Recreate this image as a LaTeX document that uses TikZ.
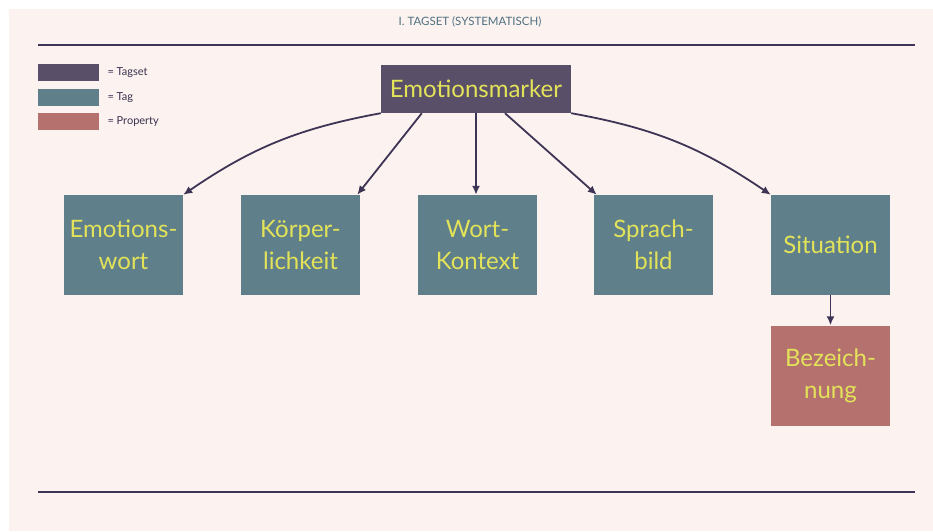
\documentclass[tikz,border=0pt]{standalone}
\usepackage{fontspec}
\setmainfont{Lato}
\usetikzlibrary{arrows.meta}
\definecolor{bgpink}{HTML}{FCF3F0}
\definecolor{tagset}{HTML}{5A4F69}
\definecolor{tagcol}{HTML}{5F7F8A}
\definecolor{propcol}{HTML}{B5716E}
\definecolor{txtyel}{HTML}{E3E35A}
\definecolor{linecol}{HTML}{3E3556}
\definecolor{titlecol}{HTML}{4F7080}
\tikzset{
  box/.style={draw=none, minimum width=119pt, minimum height=100pt, align=center,
    text=txtyel, font=\fontsize{24}{32}\selectfont, inner sep=0pt},
  tagbox/.style={box, fill=tagcol},
  propbox/.style={box, fill=propcol},
  swatch/.style={fill=#1, minimum width=61pt, minimum height=17pt, inner sep=0pt},
  legtext/.style={anchor=west, font=\fontsize{11}{13}\selectfont, text=linecol!90!black},
}
\begin{document}
\begin{tikzpicture}[x=1pt,y=-1pt]
\useasboundingbox (0,0) rectangle (933,531);
\fill[bgpink] (9,9) rectangle (933,531);
\node[font=\fontsize{11.5}{13}\selectfont, text=titlecol] (title) at (470,22) {I. TAGSET (SYSTEMATISCH)};
\draw[linecol, line width=2.5pt] (38,45) -- (915,45);
\draw[linecol, line width=2.5pt] (38,492) -- (915,492);

% legend
\node[swatch=tagset] (l1) at (68.5,72.5) {};
\node[swatch=tagcol] (l2) at (68.5,97.5) {};
\node[swatch=propcol] (l3) at (68.5,121.5) {};
\node[legtext] at (104,72.5) {= Tagset};
\node[legtext] at (104,97.5) {= Tag};
\node[legtext] at (104,121.5) {= Property};

\node[fill=tagset, text=txtyel, minimum width=190pt, minimum height=48pt, inner sep=0pt,
  font=\fontsize{24}{28}\selectfont] (em) at (476,89) {Emotionsmarker};
\node[tagbox] (ew) at (123.5,245) {Emotions-\\wort};
\node[tagbox] (kl) at (300.5,245) {Körper-\\lichkeit};
\node[tagbox] (wk) at (477.5,245) {Wort-\\Kontext};
\node[tagbox] (sb) at (653.5,245) {Sprach-\\bild};
\node[tagbox] (si) at (830.5,245) {Situation};
\node[propbox] (bz) at (830.5,375.5) {Bezeich-\\nung};

\path[draw,line width=1.8pt,linecol,-{Latex[length=9pt,width=8pt]}] (em.south west) to[bend right=12] (ew.north east);
\path[draw,line width=1.8pt,linecol,-{Latex[length=9pt,width=8pt]}] ([xshift=41pt]em.south west) -- ([xshift=-3pt]kl.north east);
\path[draw,line width=1.8pt,linecol,-{Latex[length=9pt,width=8pt]}] (em.south) -- (em.south |- wk.north);
\path[draw,line width=1.8pt,linecol,-{Latex[length=9pt,width=8pt]}] ([xshift=29pt]em.south) -- ([xshift=3pt]sb.north west);
\path[draw,line width=1.8pt,linecol,-{Latex[length=9pt,width=8pt]}] (em.south east) to[bend left=12] (si.north west);
\path[draw,line width=1.8pt,linecol,-{Latex[length=9pt,width=8pt]}] (si) -- (bz);
\end{tikzpicture}
\end{document}
